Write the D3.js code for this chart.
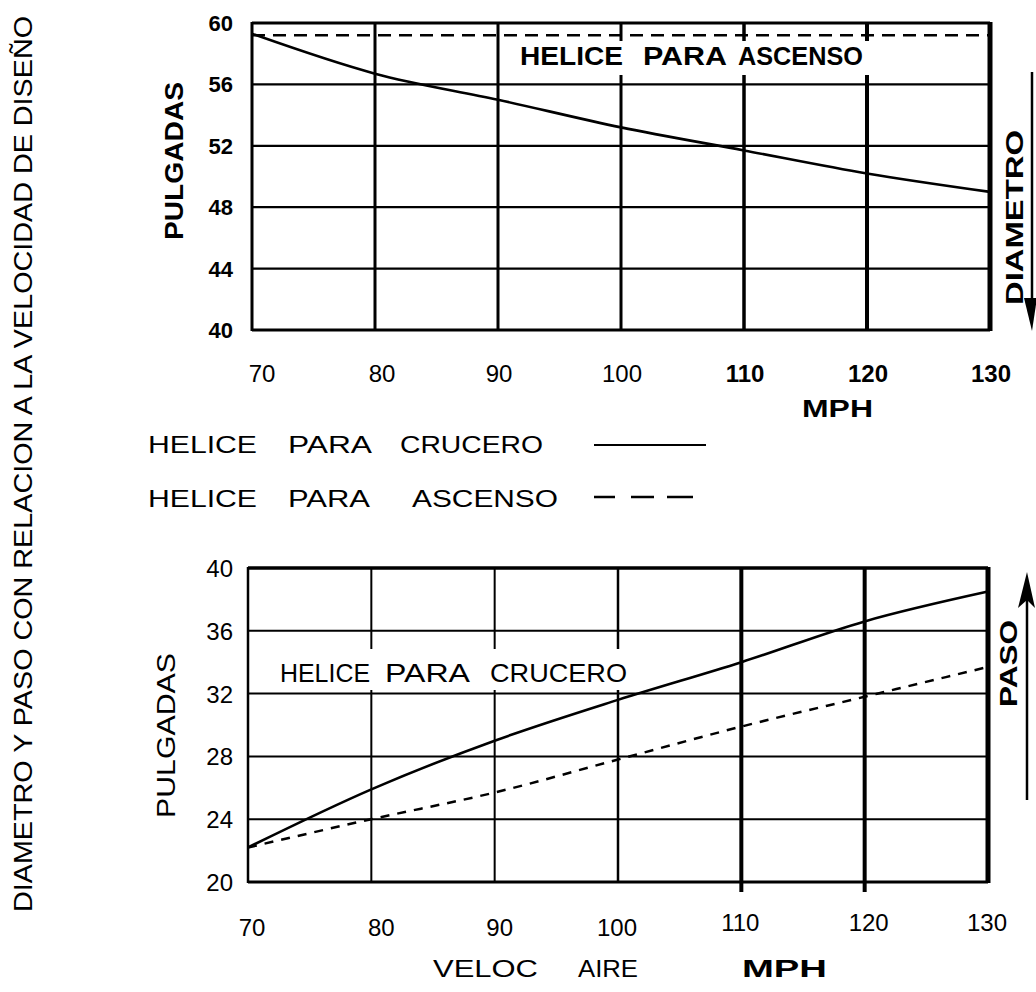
<!DOCTYPE html>
<html>
<head>
<meta charset="utf-8">
<script src="https://cdn.jsdelivr.net/npm/d3@7"></script>
<style>
  html, body { margin: 0; padding: 0; background: #fff; }
  svg { display: block; }
  text { font-family: "Liberation Sans", Arial, Helvetica, sans-serif; fill: #000; }
</style>
</head>
<body>
<svg id="chart" width="1036" height="992"></svg>
<script>
// ---------------- DATA ----------------
const speeds = [70, 80, 90, 100, 110, 120, 130];               // MPH
const diamCrucero = [59.3, 56.7, 55.0, 53.2, 51.7, 50.2, 49.0]; // pulgadas
const diamAscenso = [59.2, 59.2, 59.2, 59.2, 59.2, 59.2, 59.2];
const pasoCrucero = [22.2, 25.9, 29.0, 31.6, 34.0, 36.6, 38.5];
const pasoAscenso = [22.2, 24.0, 25.7, 27.8, 29.9, 31.8, 33.7];
const diamTicks = [40, 44, 48, 52, 56, 60];
const pasoTicks = [20, 24, 28, 32, 36, 40];
const speedTicks = [70, 80, 90, 100, 110, 120, 130];
const boldSpeedTicks = [110, 120, 130];

const titleText = "DIAMETRO Y PASO CON RELACION A LA VELOCIDAD DE DISEÑO";
const legendCrucero = ["HELICE", "PARA", "CRUCERO"];
const legendAscenso = ["HELICE", "PARA", "ASCENSO"];

// ---------------- SETUP ----------------
const svg = d3.select("#chart");
svg.append("rect").attr("width", 1036).attr("height", 992).attr("fill", "#fff");

const xTop = d3.scaleLinear().domain([70, 130]).range([252, 990]);
const yTop = d3.scaleLinear().domain([40, 60]).range([330, 23]);
const xBot = d3.scaleLinear().domain([70, 130]).range([248, 988]);
const yBot = d3.scaleLinear().domain([20, 40]).range([882, 568]);

// helper: word fitted between x1,x2 on baseline
function word(g, str, x1, x2, base, size, weight, adjust) {
  return g.append("text")
    .attr("x", x1).attr("y", base)
    .attr("font-size", size)
    .attr("font-weight", weight || "normal")
    .attr("textLength", x2 - x1)
    .attr("lengthAdjust", adjust || "spacingAndGlyphs")
    .text(str);
}
// vertical word (rotated -90), reading bottom->top, baseline at bx
function vword(g, str, bx, yBottom, yTopEdge, size, weight) {
  return g.append("text")
    .attr("transform", `translate(${bx},${yBottom}) rotate(-90)`)
    .attr("x", 0).attr("y", 0)
    .attr("font-size", size)
    .attr("font-weight", weight || "normal")
    .attr("textLength", yBottom - yTopEdge)
    .attr("lengthAdjust", "spacingAndGlyphs")
    .text(str);
}

// vertical line widths per speed
const vWidthTop = {70: 3, 80: 3, 90: 3, 100: 3, 110: 3.5, 120: 4, 130: 5};
const vWidthBot = {70: 2.5, 80: 2, 90: 2, 100: 2.5, 110: 4, 120: 4, 130: 5};

// ================= TOP CHART (DIAMETRO) =================
const gT = svg.append("g");
gT.selectAll("line.h").data(diamTicks).join("line")
  .attr("x1", xTop(70)).attr("x2", xTop(130))
  .attr("y1", d => yTop(d)).attr("y2", d => yTop(d))
  .attr("stroke", "#000")
  .attr("stroke-width", d => (d === 40 || d === 60) ? 3 : 2.3);
gT.selectAll("line.v").data(speedTicks).join("line")
  .attr("x1", d => xTop(d)).attr("x2", d => xTop(d))
  .attr("y1", yTop(60) - 1).attr("y2", yTop(40) + 1)
  .attr("stroke", "#000")
  .attr("stroke-width", d => vWidthTop[d]);

const lineTop = d3.line().x((d, i) => xTop(speeds[i])).y(d => yTop(d)).curve(d3.curveMonotoneX);
gT.append("path").datum(diamAscenso).attr("d", lineTop)
  .attr("fill", "none").attr("stroke", "#000").attr("stroke-width", 2.6)
  .attr("stroke-dasharray", "13,8");
gT.append("rect").attr("x", 506).attr("y", 41).attr("width", 370).attr("height", 34).attr("fill", "#fff");
word(gT, "HELICE", 520, 623, 65, 25, "bold");
word(gT, "PARA", 643, 727, 65, 25, "bold");
word(gT, "ASCENSO", 738, 863, 65, 25, "bold");
gT.append("path").datum(diamCrucero).attr("d", lineTop)
  .attr("fill", "none").attr("stroke", "#000").attr("stroke-width", 2.6);

gT.selectAll("text.yl").data(diamTicks).join("text")
  .attr("x", 233).attr("y", d => yTop(d) + 8)
  .attr("text-anchor", "end")
  .attr("font-size", 22).attr("font-weight", "bold")
  .text(d => d);
vword(gT, "PULGADAS", 183, 240, 82, 26, "bold");

gT.selectAll("text.xl").data(speedTicks).join("text")
  .attr("x", d => xTop(d) + (d === 70 ? 10 : d === 80 ? 7 : 1))
  .attr("y", 382)
  .attr("text-anchor", "middle")
  .attr("font-size", 24)
  .attr("font-weight", d => boldSpeedTicks.includes(d) ? "bold" : "normal")
  .text(d => d);
word(gT, "MPH", 802, 873, 417, 24, "bold");

vword(gT, "DIAMETRO", 1023, 305, 130, 24, "bold");
gT.append("line").attr("x1", 1032).attr("x2", 1032).attr("y1", 72).attr("y2", 305)
  .attr("stroke", "#000").attr("stroke-width", 2.5);
gT.append("path").attr("d", "M1024,298 L1032,331 L1037,298 Z").attr("fill", "#000");

// ================= LEGEND =================
const gL = svg.append("g");
word(gL, legendCrucero[0], 148, 257, 453, 24, "normal");
word(gL, legendCrucero[1], 288, 372, 453, 24, "normal");
word(gL, legendCrucero[2], 400, 543, 453, 24, "normal");
gL.append("line").attr("x1", 594).attr("x2", 706).attr("y1", 445).attr("y2", 445)
  .attr("stroke", "#000").attr("stroke-width", 2);
word(gL, legendAscenso[0], 148, 257, 507, 24, "normal");
word(gL, legendAscenso[1], 288, 370, 507, 24, "normal");
word(gL, legendAscenso[2], 412, 558, 507, 24, "normal");
gL.append("line").attr("x1", 594).attr("x2", 693).attr("y1", 497).attr("y2", 497)
  .attr("stroke", "#000").attr("stroke-width", 2.5)
  .attr("stroke-dasharray", "21,16,23,13,26");

// ================= BOTTOM CHART (PASO) =================
const gB = svg.append("g");
gB.selectAll("line.h").data(pasoTicks).join("line")
  .attr("x1", xBot(70)).attr("x2", xBot(130))
  .attr("y1", d => yBot(d)).attr("y2", d => yBot(d))
  .attr("stroke", "#000")
  .attr("stroke-width", d => d === 40 ? 3.5 : d === 20 ? 3 : 2);
gB.selectAll("line.v").data(speedTicks).join("line")
  .attr("x1", d => xBot(d)).attr("x2", d => xBot(d))
  .attr("y1", yBot(40) - 1).attr("y2", d => yBot(20) + (d >= 110 && d < 130 ? 10 : 1))
  .attr("stroke", "#000")
  .attr("stroke-width", d => vWidthBot[d]);

gB.append("rect").attr("x", 252).attr("y", 649).attr("width", 384).attr("height", 41).attr("fill", "#fff");
word(gB, "HELICE", 280, 370, 682, 26, "normal");
word(gB, "PARA", 385, 470, 682, 26, "normal");
word(gB, "CRUCERO", 490, 627, 682, 26, "normal");

const lineBot = d3.line().x((d, i) => xBot(speeds[i])).y(d => yBot(d)).curve(d3.curveMonotoneX);
gB.append("path").datum(pasoAscenso).attr("d", lineBot)
  .attr("fill", "none").attr("stroke", "#000").attr("stroke-width", 2.5)
  .attr("stroke-dasharray", "9,8");
gB.append("path").datum(pasoCrucero).attr("d", lineBot)
  .attr("fill", "none").attr("stroke", "#000").attr("stroke-width", 2.6);

gB.selectAll("text.yl").data(pasoTicks).join("text")
  .attr("x", 233).attr("y", d => yBot(d) + 9)
  .attr("text-anchor", "end")
  .attr("font-size", 24).attr("font-weight", "normal")
  .text(d => d);
vword(gB, "PULGADAS", 175, 818, 653, 25, "normal");

gB.selectAll("text.xl").data(speedTicks).join("text")
  .attr("x", d => xBot(d) + (d === 70 ? 4 : d === 80 ? 10 : d === 90 ? 5 : d === 120 ? 4 : -1))
  .attr("y", d => d >= 110 ? 931 : 936)
  .attr("text-anchor", "middle")
  .attr("font-size", 24)
  .text(d => d);
word(gB, "VELOC", 433, 538, 977, 24, "normal");
word(gB, "AIRE", 578, 638, 977, 24, "normal");
word(gB, "MPH", 742, 827, 977, 24, "bold");

vword(gB, "PASO", 1017, 707, 620, 24, "bold");
gB.append("line").attr("x1", 1027).attr("x2", 1027).attr("y1", 600).attr("y2", 800)
  .attr("stroke", "#000").attr("stroke-width", 2.5);
gB.append("path").attr("d", "M1018,608 L1027,572 L1035,608 L1027,600 Z").attr("fill", "#000");

// ================= TITLE =================
vword(svg, titleText, 32, 912, 16, 26, "normal")
  .style("font-family", "'Liberation Sans Narrow', 'Liberation Sans', Arial, sans-serif");
</script>
</body>
</html>
